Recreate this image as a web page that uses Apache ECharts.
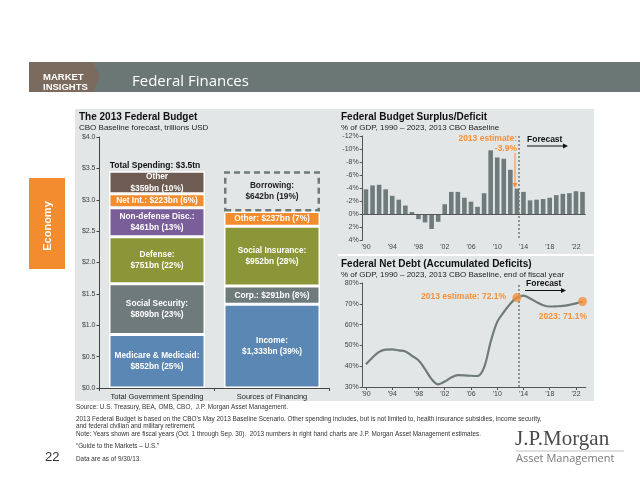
<!DOCTYPE html>
<html><head><meta charset="utf-8">
<script src="https://cdn.jsdelivr.net/npm/echarts@6/dist/echarts.min.js"></script>
<style>html,body{margin:0;padding:0;background:#fff}#c{width:640px;height:495px}</style>
</head><body><div id="c"></div>
<script>
// ---- Data ----
const budgetCategories = ['Total Government Spending', 'Sources of Financing'];
const budgetTicks = [0, 0.5, 1, 1.5, 2, 2.5, 3, 3.5, 4];
const spendingNames = ['Medicare & Medicaid', 'Social Security', 'Defense', 'Non-defense Disc.', 'Net Int.', 'Other'];
const spendingValues = [0.852, 0.809, 0.751, 0.461, 0.223, 0.359];
const spendingLabels = ['Medicare & Medicaid:\n$852bn (25%)', 'Social Security:\n$809bn (23%)', 'Defense:\n$751bn (22%)', 'Non-defense Disc.:\n$461bn (13%)', 'Net Int.: $223bn (6%)', 'Other\n$359bn (10%)'];
const financingNames = ['Income', 'Corp.', 'Social Insurance', 'Other', 'Borrowing'];
const financingValues = [1.333, 0.291, 0.952, 0.237, 0.642];
const financingLabels = ['Income:\n$1,333bn (39%)', 'Corp.: $291bn (8%)', 'Social Insurance:\n$952bn (28%)', 'Other: $237bn (7%)', 'Borrowing:\n$642bn (19%)'];

const years = ['1990','1991','1992','1993','1994','1995','1996','1997','1998','1999',
               '2000','2001','2002','2003','2004','2005','2006','2007','2008','2009',
               '2010','2011','2012','2013','2014','2015','2016','2017','2018','2019',
               '2020','2021','2022','2023'];
// Surplus(+)/Deficit(-), % of GDP
const deficit = [-3.8,-4.4,-4.5,-3.8,-2.8,-2.2,-1.3,-0.3,0.8,1.3,
                 2.3,1.2,-1.5,-3.4,-3.4,-2.5,-1.9,-1.1,-3.2,-9.8,
                 -8.7,-8.5,-6.8,-3.9,-3.4,-2.1,-2.2,-2.3,-2.5,-2.9,
                 -3.1,-3.2,-3.5,-3.4];
// Net debt, % of GDP
const netDebt = [40.9,44.2,46.9,48.0,48.1,47.6,47.1,45.0,42.9,38.6,
                 33.8,31.3,32.6,34.6,35.7,35.6,35.4,35.3,39.4,51.7,
                 61.3,66.0,70.0,73.0,73.9,72.6,70.8,69.3,68.7,68.8,
                 69.0,69.5,70.2,71.1];
const deficitTicks = [-12,-10,-8,-6,-4,-2,0,2,4];
const debtTicks = [30,40,50,60,70,80];
const forecastStart = 23.75; // boundary position (in category units) where forecast begins
const highlightIdx = [23, 33];

// ---- Styles ----
const FONT = '"Liberation Sans", Arial, sans-serif';
const spendColors = ['#5b87b4', '#6f7b7b', '#8a9638', '#7a5e9a', '#f38b2f', '#6e5c52'];
const finColors = ['#5b87b4', '#6f7b7b', '#8a9638', '#f38b2f', 'transparent'];
const ORANGE = '#f4903a';
const GREY = '#6f7b7b';

const chart = echarts.init(document.getElementById('c'), null, {renderer: 'canvas'});

const series = [];
spendingValues.forEach((v, i) => {
  series.push({
    name: spendingNames[i], type: 'bar', stack: 'budget', xAxisIndex: 0, yAxisIndex: 0,
    barWidth: 96, data: [v, '-'],
    itemStyle: {color: spendColors[i], borderColor: '#ffffff', borderWidth: 1.5},
    label: {show: true, position: 'inside', formatter: spendingLabels[i], color: '#fff',
            fontFamily: FONT, fontWeight: 'bold', fontSize: 8.3, lineHeight: 11.5},
    silent: true
  });
});
financingValues.forEach((v, i) => {
  const isBorrow = i === financingValues.length - 1;
  series.push({
    name: financingNames[i], type: 'bar', stack: 'budget', xAxisIndex: 0, yAxisIndex: 0,
    barWidth: 96, data: ['-', v],
    itemStyle: isBorrow ? {color: 'rgba(0,0,0,0)', borderColor: GREY, borderWidth: 2.5, borderType: [6, 4]}
                        : {color: finColors[i], borderColor: '#ffffff', borderWidth: 1.5},
    label: {show: true, position: 'inside', formatter: financingLabels[i], color: isBorrow ? '#222' : '#fff',
            fontFamily: FONT, fontWeight: 'bold', fontSize: 8.3, lineHeight: 11.5},
    silent: true
  });
});
// deficit bars
series.push({
  type: 'bar', xAxisIndex: 1, yAxisIndex: 1, data: deficit, barWidth: 4.6,
  itemStyle: {color: GREY}, silent: true,
  markLine: {silent: true, symbol: ['none', 'none'], label: {show: false},
             lineStyle: {color: '#555', width: 1, type: 'solid'}, data: [{yAxis: 0}]}
});
// forecast divider, top chart
series.push({
  type: 'line', xAxisIndex: 2, yAxisIndex: 1, data: [], silent: true,
  markLine: {silent: true, symbol: ['none', 'none'], label: {show: false},
             lineStyle: {color: '#777', width: 1.5, type: [2, 2]}, data: [{xAxis: forecastStart}]}
});
// net debt line
series.push({
  type: 'line', xAxisIndex: 3, yAxisIndex: 2, data: netDebt, smooth: 0.35, symbol: 'none',
  lineStyle: {color: GREY, width: 2.2}, silent: true, z: 3
});
series.push({
  type: 'scatter', xAxisIndex: 3, yAxisIndex: 2, symbolSize: 9, silent: true, z: 5,
  itemStyle: {color: ORANGE},
  data: highlightIdx.map(i => [years[i], netDebt[i]])
});
series.push({
  type: 'line', xAxisIndex: 4, yAxisIndex: 2, data: [], silent: true,
  markLine: {silent: true, symbol: ['none', 'none'], label: {show: false},
             lineStyle: {color: '#777', width: 1.5, type: [2, 2]}, data: [{xAxis: forecastStart}]}
});

const axLab = {fontFamily: FONT, fontSize: 7, color: '#444'};
const yearLabel = {...axLab, interval: 3, margin: 4, formatter: v => "'" + v.slice(2)};

function T(text, x, y, opt) {
  opt = opt || {};
  return {type: 'text', x: x, y: y, z: 100, rotation: opt.rotation || 0,
    style: {text: text, fill: opt.color || '#222', fontFamily: opt.family || FONT,
      fontSize: opt.size || 8, fontWeight: opt.weight || 'normal',
      align: opt.align || 'left', verticalAlign: opt.valign || 'middle',
      textAlign: opt.align || 'left', textVerticalAlign: opt.valign || 'middle'}};
}
function arrowH(x1, x2, y, color) {
  return [
    {type: 'line', z: 100, shape: {x1: x1, y1: y, x2: x2 - 4, y2: y}, style: {stroke: color, lineWidth: 1}},
    {type: 'polygon', z: 100, shape: {points: [[x2 - 5, y - 2.5], [x2 - 5, y + 2.5], [x2, y]]}, style: {fill: color}}
  ];
}
function arrowV(x, y1, y2, color) {
  return [
    {type: 'line', z: 100, shape: {x1: x, y1: y1, x2: x, y2: y2 - 4}, style: {stroke: color, lineWidth: 1}},
    {type: 'polygon', z: 100, shape: {points: [[x - 2.5, y2 - 5], [x + 2.5, y2 - 5], [x, y2]]}, style: {fill: color}}
  ];
}

const PANEL = '#e3e6e7';
const graphics = [
  // header
  {type: 'rect', z: -10, shape: {x: 29, y: 62, width: 611, height: 30}, style: {fill: '#6b7774'}},
  {type: 'polygon', z: -9, shape: {points: [[29, 62], [93, 62], [100, 77], [93, 92], [29, 92]]}, style: {fill: '#7b6a5e'}},
  T('MARKET', 43, 77, {size: 9.5, weight: 'bold', color: '#fff'}),
  T('INSIGHTS', 43, 87.5, {size: 9.5, weight: 'bold', color: '#fff'}),
  T('Federal Finances', 132, 82, {size: 15, color: '#fff', family: '"Open Sans", "Liberation Sans", sans-serif'}),
  // panels
  {type: 'rect', z: -10, shape: {x: 75, y: 109, width: 263, height: 292}, style: {fill: PANEL}},
  {type: 'rect', z: -10, shape: {x: 337, y: 109, width: 257, height: 145}, style: {fill: PANEL}},
  {type: 'rect', z: -10, shape: {x: 337, y: 256, width: 257, height: 145}, style: {fill: PANEL}},
  // economy tab
  {type: 'rect', z: -10, shape: {x: 29, y: 178, width: 36, height: 91}, style: {fill: '#f38b2f'}},
  T('Economy', 48, 226, {size: 11, weight: 'bold', color: '#fff', align: 'center', rotation: Math.PI / 2}),
  // titles
  T('The 2013 Federal Budget', 79, 117, {size: 10, weight: 'bold', color: '#111'}),
  T('CBO Baseline forecast, trillions USD', 79, 128, {size: 8, color: '#222'}),
  T('Federal Budget Surplus/Deficit', 341, 117, {size: 10, weight: 'bold', color: '#111'}),
  T('% of GDP, 1990 \u2013 2023, 2013 CBO Baseline', 341, 128, {size: 8, color: '#222'}),
  T('Federal Net Debt (Accumulated Deficits)', 341, 264, {size: 10, weight: 'bold', color: '#111'}),
  T('% of GDP, 1990 \u2013 2023, 2013 CBO Baseline, end of fiscal year', 341, 275, {size: 8, color: '#222'}),
  // left chart annotation
  T('Total Spending: $3.5tn', 155, 166, {size: 8.5, weight: 'bold', align: 'center', color: '#111'}),
  // top right annotations
  T('2013 estimate:', 517, 139, {size: 8.5, weight: 'bold', align: 'right', color: ORANGE}),
  T('-3.9%', 517, 148.5, {size: 8.5, weight: 'bold', align: 'right', color: ORANGE}),
  ...arrowV(515, 153, 188, ORANGE),
  T('Forecast', 527, 140, {size: 8.5, weight: 'bold', color: '#111'}),
  ...arrowH(527, 568, 146, '#111'),
  // bottom right annotations
  T('Forecast', 526, 284, {size: 8.5, weight: 'bold', color: '#111'}),
  ...arrowH(525, 566, 290.5, '#111'),
  T('2013 estimate: 72.1%', 506, 297, {size: 8.5, weight: 'bold', align: 'right', color: ORANGE}),
  T('2023: 71.1%', 587, 317, {size: 8.5, weight: 'bold', align: 'right', color: ORANGE}),
  // footnotes
  T('Source: U.S. Treasury, BEA, OMB, CBO,  J.P. Morgan Asset Management.', 76, 407, {size: 6.4, color: '#333'}),
  T('2013 Federal Budget is based on the CBO\u2019s May 2013 Baseline Scenario. Other spending includes, but is not limited to, health insurance subsidies, income security,', 76, 419, {size: 6.4, color: '#333'}),
  T('and federal civilian and military retirement.', 76, 426.5, {size: 6.4, color: '#333'}),
  T('Note: Years shown are fiscal years (Oct. 1 through Sep. 30).  2013 numbers in right hand charts are J.P. Morgan Asset Management estimates.', 76, 434, {size: 6.4, color: '#333'}),
  T('\u201cGuide to the Markets \u2013 U.S.\u201d', 76, 446, {size: 6.4, color: '#333'}),
  T('Data are as of 9/30/13.', 76, 459, {size: 6.4, color: '#333'}),
  T('22', 45, 457, {size: 13, color: '#333'}),
  // logo
  T('J.P.Morgan', 515, 439, {size: 21, color: '#4a4a4a', family: '"Liberation Serif", "DejaVu Serif", serif'}),
  {type: 'line', z: 100, shape: {x1: 516, y1: 451, x2: 624, y2: 451}, style: {stroke: '#999', lineWidth: 0.6}},
  T('Asset Management', 516, 459, {size: 11, color: '#777', family: '"Open Sans", "Liberation Sans", sans-serif'})
];

const option = {
  animation: false,
  backgroundColor: '#ffffff',
  grid: [
    {left: 99.5, top: 137, width: 230, height: 251},
    {left: 362.7, top: 136, width: 223.1, height: 104},
    {left: 362.7, top: 283, width: 223.1, height: 104}
  ],
  xAxis: [
    {type: 'category', gridIndex: 0, data: budgetCategories,
     axisLine: {lineStyle: {color: '#444'}}, axisTick: {show: true, length: 3, lineStyle: {color: '#444'}},
     axisLabel: {fontFamily: FONT, fontSize: 7.5, color: '#222', margin: 5, interval: 0, hideOverlap: false}},
    {type: 'category', gridIndex: 1, data: years, axisLine: {show: false}, axisTick: {show: false},
     axisLabel: yearLabel},
    {type: 'value', gridIndex: 1, min: 0, max: years.length, show: false},
    {type: 'category', gridIndex: 2, data: years,
     axisLine: {lineStyle: {color: '#555'}}, axisTick: {show: true, interval: 3, alignWithLabel: true, length: 3, lineStyle: {color: '#555'}},
     axisLabel: yearLabel},
    {type: 'value', gridIndex: 2, min: 0, max: years.length, show: false}
  ],
  yAxis: [
    {type: 'value', gridIndex: 0, min: budgetTicks[0], max: budgetTicks[budgetTicks.length - 1], interval: 0.5,
     axisLine: {show: true, lineStyle: {color: '#444'}}, axisTick: {show: true, length: 3, lineStyle: {color: '#444'}},
     splitLine: {show: false}, axisLabel: {...axLab, margin: 4, formatter: v => '$' + v.toFixed(1)}},
    {type: 'value', gridIndex: 1, inverse: true, min: deficitTicks[0], max: deficitTicks[deficitTicks.length - 1], interval: 2,
     axisLine: {show: true, lineStyle: {color: '#555'}}, axisTick: {show: true, length: 3, lineStyle: {color: '#555'}},
     splitLine: {show: false}, axisLabel: {...axLab, margin: 4, formatter: v => v + '%'}},
    {type: 'value', gridIndex: 2, min: debtTicks[0], max: debtTicks[debtTicks.length - 1], interval: 10,
     axisLine: {show: true, lineStyle: {color: '#555'}}, axisTick: {show: true, length: 3, lineStyle: {color: '#555'}},
     splitLine: {show: false}, axisLabel: {...axLab, margin: 4, formatter: v => v + '%'}}
  ],
  series: series,
  graphic: {elements: graphics}
};
chart.setOption(option);
</script>
</body></html>
